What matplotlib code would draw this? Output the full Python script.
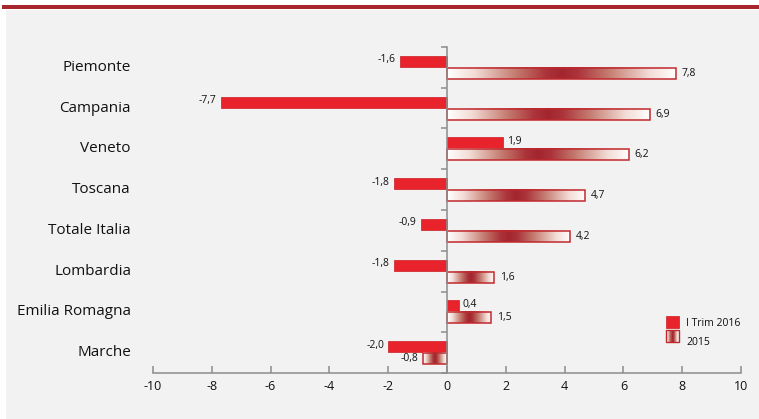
import matplotlib
matplotlib.use("Agg")
import matplotlib.pyplot as plt
import numpy as np
from matplotlib.colors import LinearSegmentedColormap
from matplotlib.patches import Rectangle
from matplotlib.legend_handler import HandlerBase
import matplotlib.transforms as mtransforms

plt.rcParams['font.family'] = ['Open Sans', 'DejaVu Sans']
plt.rcParams['axes.unicode_minus'] = False

categories = ["Piemonte", "Campania", "Veneto", "Toscana", "Totale Italia",
              "Lombardia", "Emilia Romagna", "Marche"]
trim2016 = [-1.6, -7.7, 1.9, -1.8, -0.9, -1.8, 0.4, -2.0]
y2015 = [7.8, 6.9, 6.2, 4.7, 4.2, 1.6, 1.5, -0.8]
series_names = ["I Trim 2016", "2015"]
xticks = [-10, -8, -6, -4, -2, 0, 2, 4, 6, 8, 10]

RED = "#e8232b"
EDGE = "#c0282e"
GRAY = "#8c8c8c"
BG = "#f1f2f1"
TXT = "#111111"
grad_cmap = LinearSegmentedColormap.from_list(
    "grad", [(0.0, "#ffffff"), (0.12, "#f2dcd6"), (0.3, "#c47a6e"),
             (0.43, "#ab343a"), (0.5, "#a3252d"), (0.57, "#ab343a"),
             (0.7, "#c47a6e"), (0.88, "#f2dcd6"), (1.0, "#ffffff")])

fig = plt.figure(figsize=(7.59, 4.19), dpi=100, facecolor="white")
# background panel and top red band
fig.patches.append(Rectangle((6 / 759, 0), 1, 1 - 10 / 419, transform=fig.transFigure,
                             facecolor=BG, edgecolor="none", zorder=-2))
fig.patches.append(Rectangle((2 / 759, 1 - 9.5 / 419), 1, 4.5 / 419, transform=fig.transFigure,
                             facecolor="#a8262e", edgecolor="none", zorder=-2))

ax = fig.add_axes([153 / 759, 1 - 373 / 419, 588 / 759, 326 / 419])
ax.set_facecolor("none")

y = np.arange(len(categories))
h = 0.27
ax.barh(y - 0.015 - h / 2, trim2016, height=h, color=RED, edgecolor="#d03035",
        linewidth=0.6, zorder=3)

grad = np.linspace(0, 1, 256).reshape(1, -1)
for yi, v in zip(y, y2015):
    y0, y1 = yi + 0.015, yi + 0.015 + h
    x0, x1 = (0, v) if v >= 0 else (v, 0)
    ax.imshow(grad, cmap=grad_cmap, aspect="auto", extent=[x0, x1, y1, y0],
              interpolation="bilinear", zorder=3)
    ax.add_patch(Rectangle((x0, y0), x1 - x0, h, facecolor="none", edgecolor=EDGE,
                           linewidth=1.1, zorder=4))
ax.set_xlim(-10, 10)
ax.set_ylim(len(categories) - 0.5, -0.5)

def fmt(v):
    return f"{v:.1f}".replace(".", ",")

for yi, v in zip(y, trim2016):
    ax.annotate(fmt(v), (v, yi - 0.015 - h / 2), xytext=(3 if v >= 0 else -3, 1),
                textcoords="offset points", ha="left" if v >= 0 else "right",
                va="center", fontsize=7.5, color=TXT)
for yi, v in zip(y, y2015):
    ax.annotate(fmt(v), (v, yi + 0.015 + h / 2), xytext=(4 if v >= 0 else -4, 0),
                textcoords="offset points", ha="left" if v >= 0 else "right",
                va="center", fontsize=7.5, color=TXT)

# category labels
trans = mtransforms.blended_transform_factory(fig.transFigure, ax.transData)
for yi, c in zip(y, categories):
    ax.text(131 / 759, yi, c, transform=trans, ha="right", va="center",
            fontsize=11, color=TXT)

# spines / ticks
for s in ["top", "right"]:
    ax.spines[s].set_visible(False)
ax.spines["left"].set_position(("data", 0))
ax.spines["left"].set_color(GRAY)
ax.spines["left"].set_linewidth(1.1)
ax.spines["left"].set_zorder(5)
ax.spines["bottom"].set_color(GRAY)
ax.spines["bottom"].set_linewidth(1.1)
ax.set_yticks(np.arange(len(categories) + 1) - 0.5)
ax.set_yticklabels([])
ax.tick_params(axis="y", direction="out", length=4, color=GRAY, width=1.1)
ax.set_xticks(xticks)
ax.set_xticklabels([str(t) for t in xticks], fontsize=9, color=TXT)
ax.tick_params(axis="x", direction="in", length=5, color=GRAY, width=1.1, pad=5)

# legend
class HandlerGradient(HandlerBase):
    def create_artists(self, legend, orig_handle, xdescent, ydescent, width, height,
                       fontsize, trans):
        arts = []
        n = 24
        for i in range(n):
            c = grad_cmap((i + 0.5) / n)
            arts.append(Rectangle((xdescent + width * i / n, ydescent),
                                  width / n * 1.05, height, facecolor=c,
                                  edgecolor="none", transform=trans))
        arts.append(Rectangle((xdescent, ydescent), width, height,
                              facecolor="none", edgecolor=EDGE, linewidth=1.0,
                              transform=trans))
        return arts

class GradHandle:
    pass

red_handle = Rectangle((0, 0), 1, 1, facecolor=RED, edgecolor="#d03035", linewidth=0.6)
gh = GradHandle()
leg = ax.legend([red_handle, gh], series_names, handler_map={GradHandle: HandlerGradient()},
                loc="upper left", bbox_to_anchor=(0.868, 1 - 309 / 419),
                bbox_transform=fig.transFigure, frameon=False, fontsize=7.5,
                handlelength=1.25, handleheight=1.4, handletextpad=0.7, labelspacing=0.65,
                borderpad=0.2)
for t in leg.get_texts():
    t.set_color(TXT)

fig.savefig("out.png", dpi=100, facecolor="white")
